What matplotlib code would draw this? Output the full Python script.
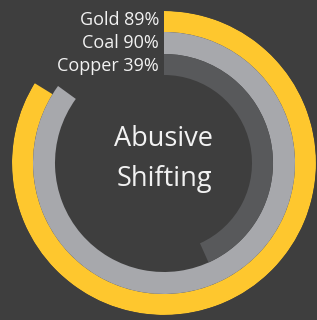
"""
Radial progress chart - Abusive Shifting
"""
import numpy as np
import matplotlib
matplotlib.use('Agg')
import matplotlib.pyplot as plt

# data
minerals = ['Gold', 'Coal', 'Copper']
label_pct = [89, 90, 39]          # percentages printed in the labels
arc_pct = [83.8, 85.0, 43.3]      # share of full circle drawn by each ring
colors = ['#fec72e', '#a7a8ac', '#58595b']
title_lines = ['Abusive', 'Shifting']

BG = '#3e3e3e'
W, H = 317, 320
cx, cy, R = 164, 163, 152
ring_w = [21, 22, 21]

fig = plt.figure(figsize=(W / 100, H / 100), dpi=100, facecolor=BG)
ax = fig.add_axes([(cx - R) / W, (H - cy - R) / H, 2 * R / W, 2 * R / H],
                  projection='polar')
ax.set_facecolor('none')
ax.set_theta_zero_location('N')
ax.set_theta_direction(-1)
ax.set_ylim(0, R)
ax.axis('off')

# rings, outer to inner
outer = R
for name, pct, col, w in zip(minerals, arc_pct, colors, ring_w):
    span = 2 * np.pi * pct / 100
    ax.bar(0, w, width=span, bottom=outer - w, align='edge',
           color=col, edgecolor='none', antialiased=True)
    outer -= w

# labels left of the start line
font = ['Open Sans', 'DejaVu Sans']
label_y = [20, 43, 66]
for name, pct, y in zip(minerals, label_pct, label_y):
    fig.text(159 / W, 1 - y / H, f'{name} {pct}%', ha='right', va='center',
             color='#f2f2f2', fontsize=13, family=font)

# centre title
for line, y in zip(title_lines, [139, 179]):
    fig.text(cx / W, 1 - y / H, line, ha='center', va='center',
             color='#f2f2f2', fontsize=19.5, family=font)

fig.savefig('out.png', dpi=100, facecolor=BG)
plt.close(fig)
